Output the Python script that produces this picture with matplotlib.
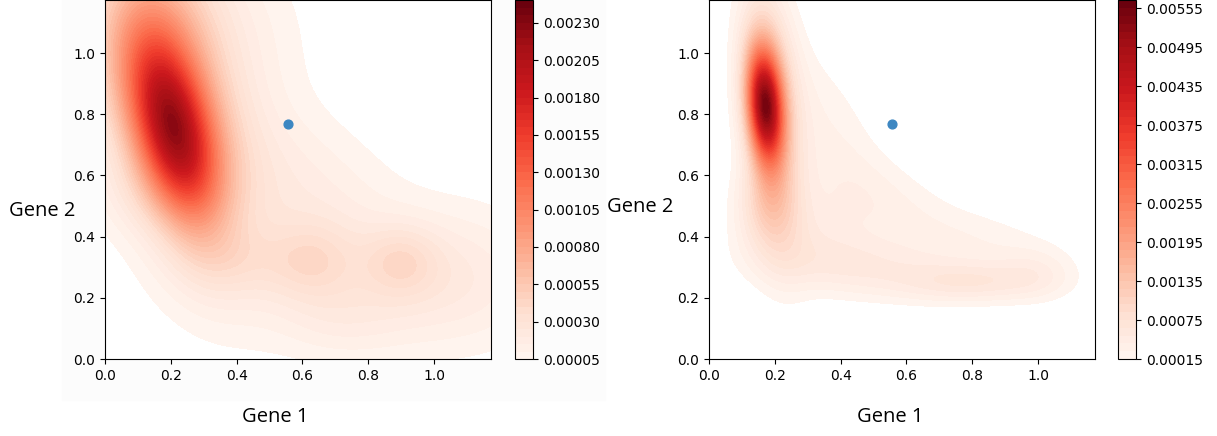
import matplotlib.pyplot as plt
import matplotlib.patches as mpatches
import numpy as np

# bumps of the two density maps
# columns: gene1 centre, gene2 centre, width x, width y, tilt, height
left_cx = [0.21, 0.21, 0.63, 0.90, 0.82, 0.15, 0.55, 1.10, 0.10, 0.40, 0.42, 0.72]
left_cy = [0.74, 0.78, 0.32, 0.32, 0.22, 1.10, 0.55, 0.30, 0.55, 1.05, 0.32, 0.12]
left_sx = [0.09, 0.14, 0.09, 0.08, 0.32, 0.13, 0.25, 0.15, 0.10, 0.15, 0.12, 0.12]
left_sy = [0.20, 0.28, 0.09, 0.08, 0.14, 0.20, 0.22, 0.15, 0.10, 0.20, 0.08, 0.08]
left_rho = [-0.45, -0.4, 0.0, 0.0, 0.0, 0.0, -0.5, 0.0, 0.0, 0.0, 0.0, 0.0]
left_amp = [0.0014, 0.0007, 0.00020, 0.00022, 0.00014, 0.00045, 0.00018,
            0.0001, 0.00008, 0.0001, 0.00012, 0.00006]

right_cx = [0.17, 0.19, 0.80, 0.45, 0.17, 0.35, 0.55, 0.85, 1.00, 0.30]
right_cy = [0.83, 0.80, 0.25, 0.30, 0.50, 0.75, 0.50, 0.38, 0.28, 0.42]
right_sx = [0.037, 0.06, 0.15, 0.20, 0.06, 0.12, 0.15, 0.15, 0.08, 0.12]
right_sy = [0.13, 0.27, 0.045, 0.07, 0.10, 0.20, 0.12, 0.08, 0.06, 0.10]
right_rho = [-0.2, -0.3, 0.0, -0.2, 0.0, -0.5, -0.5, -0.3, 0.0, 0.0]
right_amp = [0.0042, 0.0013, 0.0005, 0.00045, 0.0006, 0.00025, 0.00025,
             0.0002, 0.00025, 0.0003]

# the one cell that is marked on both maps
cell_gene1 = [0.555]
cell_gene2 = [0.768]

left_levels = np.arange(0.00005, 0.00246, 0.00005)
left_ticks = np.arange(0.00005, 0.00231, 0.00025)
right_levels = np.arange(0.00015, 0.00568, 0.00012)
right_ticks = np.arange(0.00015, 0.00556, 0.0006)

W, H = 1217.0, 436.0


def density(gx, gy, cx, cy, sx, sy, rho, amp):
    z = np.zeros_like(gx)
    for i in range(len(cx)):
        dx = (gx - cx[i]) / sx[i]
        dy = (gy - cy[i]) / sy[i]
        q = (dx ** 2 - 2 * rho[i] * dx * dy + dy ** 2) / (1 - rho[i] ** 2)
        z += amp[i] * np.exp(-0.5 * q)
    return z


def panel(fig, x0, cbx0, comps, levels, ticks):
    ax = fig.add_axes([x0 / W, 77 / H, 386 / W, 358.5 / H])
    cax = fig.add_axes([cbx0 / W, 77 / H, 18 / W, 358.5 / H])
    g = np.linspace(0, 1.2, 400)
    gx, gy = np.meshgrid(g, g)
    z = density(gx, gy, *comps)
    z = np.minimum(z, levels[-1] * 0.999)
    cs = ax.contourf(gx, gy, z, levels=levels, cmap='Reds')
    ax.scatter(cell_gene1, cell_gene2, s=40, color='#3d87c2', zorder=3)
    ax.set_xlim(0, 1.173)
    ax.set_ylim(0, 1.172)
    ax.set_xticks([0.0, 0.2, 0.4, 0.6, 0.8, 1.0])
    ax.set_yticks([0.0, 0.2, 0.4, 0.6, 0.8, 1.0])
    ax.tick_params(labelsize=10)
    cb = fig.colorbar(cs, cax=cax)
    cb.set_ticks(ticks)
    cb.set_ticklabels(['%.5f' % t for t in ticks])
    cb.ax.tick_params(labelsize=10)
    return ax


def main():
    fig = plt.figure(figsize=(12.17, 4.36), dpi=100)
    fig.patches.append(mpatches.Rectangle((62 / W, 36 / H), 543 / W, 400 / H,
                                          transform=fig.transFigure,
                                          color='#fcfcfc', zorder=-10))
    panel(fig, 105, 515, (left_cx, left_cy, left_sx, left_sy, left_rho, left_amp),
          left_levels, left_ticks)
    panel(fig, 709, 1118, (right_cx, right_cy, right_sx, right_sy, right_rho, right_amp),
          right_levels, right_ticks)

    lab = dict(fontsize=14.5, family=['Open Sans', 'DejaVu Sans'], ha='center', va='center')
    fig.text(42 / W, 1 - 211 / H, 'Gene 2', **lab)
    fig.text(275 / W, 1 - 417 / H, 'Gene 1', **lab)
    fig.text(640 / W, 1 - 207 / H, 'Gene 2', **lab)
    fig.text(890 / W, 1 - 417 / H, 'Gene 1', **lab)

    fig.savefig('out.png', dpi=100)


if __name__ == '__main__':
    main()
